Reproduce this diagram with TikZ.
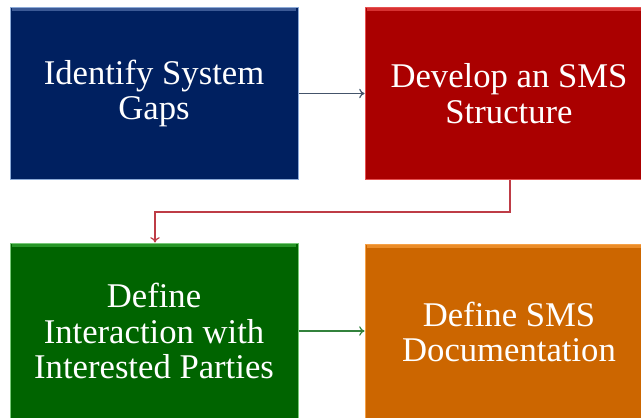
\documentclass[tikz,border=0pt]{standalone}
\usepackage{fontspec}
\setmainfont{Liberation Serif}
\usetikzlibrary{arrows.meta}

\definecolor{gapsblue}{RGB}{0,32,96}
\definecolor{smsred}{RGB}{170,0,0}
\definecolor{partygreen}{RGB}{0,100,0}
\definecolor{docorange}{RGB}{204,102,0}

\tikzset{every picture/.style={line width=0.75pt}}
\tikzset{
  stepbox/.style={rectangle, minimum width=216pt, minimum height=129pt, inner sep=0.75pt,
    text=white, align=center, font=\fontsize{26}{26.5}\selectfont},
  flowline/.style={line width=0.9pt, -{To[length=4pt,width=7pt]}}
}

\begin{document}
\begin{tikzpicture}[x=0.75pt,y=0.75pt,yscale=-1,xscale=1]
\useasboundingbox (0,0) rectangle (641,417);
\clip (0,0) rectangle (641,417);

% Boxes
\node (gaps) [stepbox, fill=gapsblue, draw={rgb,255:red,140;green,170;blue,215}] at (154,93.5) {Identify System\\Gaps};
\node (structure) [stepbox, fill=smsred, draw={rgb,255:red,230;green,80;blue,80}] at (509,93.5) {Develop an SMS\\Structure};
\node (parties) [stepbox, minimum height=132pt, fill=partygreen, draw={rgb,255:red,120;green,200;blue,120}] at (154,331) {Define\\Interaction with\\Interested Parties};
\node (docs) [stepbox, minimum height=132pt, fill=docorange, draw={rgb,255:red,245;green,160;blue,70}] at (509,332) {Define SMS\\Documentation};

% highlight strips
\draw [color={rgb,255:red,60;green,90;blue,150}, line width=2pt] ([xshift=2pt,yshift=2pt]gaps.north west) -- ([xshift=-2pt,yshift=2pt]gaps.north east);
\draw [color={rgb,255:red,215;green,50;blue,50}, line width=2pt] ([xshift=2pt,yshift=2pt]structure.north west) -- ([xshift=-2pt,yshift=2pt]structure.north east);
\draw [color={rgb,255:red,40;green,150;blue,40}, line width=2pt] ([xshift=2pt,yshift=2pt]parties.north west) -- ([xshift=-2pt,yshift=2pt]parties.north east);
\draw [color={rgb,255:red,235;green,140;blue,40}, line width=2pt] ([xshift=2pt,yshift=2pt]docs.north west) -- ([xshift=-2pt,yshift=2pt]docs.north east);

% Connectors
\coordinate (bend) at (510,212);
\draw [flowline, color={rgb,255:red,68;green,84;blue,106}] (gaps.east) -- (structure.west);
\draw [flowline, color={rgb,255:red,190;green,60;blue,70}] (structure.south -| bend) -- (bend) -- (bend -| 155,0) -- (parties.north -| 155,0);
\draw [flowline, color={rgb,255:red,50;green,130;blue,60}] (parties.east) -- (docs.west |- parties.east);

\end{tikzpicture}
\end{document}
